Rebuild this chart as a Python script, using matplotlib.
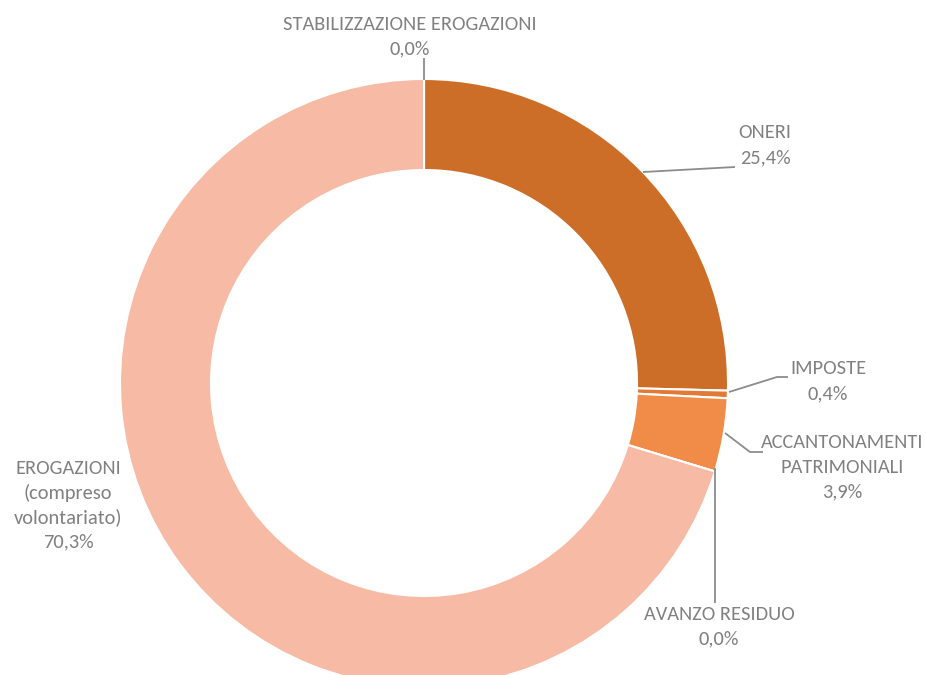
import matplotlib
matplotlib.use("Agg")
import matplotlib.pyplot as plt

plt.rcParams["font.family"] = ["Carlito", "DejaVu Sans"]

# slices clockwise from 12 o'clock
labels = ["ONERI", "IMPOSTE", "ACCANTONAMENTI\nPATRIMONIALI", "AVANZO RESIDUO",
          "EROGAZIONI\n(compreso\nvolontariato)", "STABILIZZAZIONE EROGAZIONI"]
shares = [25.4, 0.4, 3.9, 0.0, 70.3, 0.0]
colors = ["#CC6E28", "#E27A36", "#F08C48", "#F2A070", "#F7BAA4", "#F7BAA4"]

W, H = 926, 675
CX, CY = 424, H - 383
R_OUT, R_IN = 304, 213
TXT = "#808080"


def fmt(v):
    return f"{v:.1f}%".replace(".", ",")


fig = plt.figure(figsize=(W / 100, H / 100), dpi=100)
ax = fig.add_axes([0, 0, 1, 1])
ax.axis("off")

ax.pie(shares, colors=colors, startangle=90, counterclock=False,
       center=(CX, CY), radius=R_OUT, normalize=True,
       wedgeprops=dict(width=R_OUT - R_IN, edgecolor="white", linewidth=1.5))
ax.set_xlim(0, W)
ax.set_ylim(0, H)
ax.set_aspect("equal")


def y(top):
    return H - top


# leader lines (pixel coords measured from the top)
leaders = [
    [(643, 172), (735, 167)],
    [(729, 392), (777, 377), (788, 377)],
    [(725, 433), (750, 452), (763, 452)],
    [(715, 468), (715, 603)],
    [(424, 58), (424, 80)],
]
for pts in leaders:
    ax.plot([p[0] for p in pts], [y(p[1]) for p in pts], color="#8c8c8c",
            lw=1.3, solid_capstyle="butt")

# label anchors: centre x, centre y of first line (from top)
anchors = [(765, 133), (828, 369), (842, 443), (719, 614), (68, 468), (410, 24)]
LINE = 24.5
fs = 14.7
for (lx, ly), lab, v in zip(anchors, labels, shares):
    lines = lab.split("\n") + [fmt(v)]
    for k, ln in enumerate(lines):
        ax.text(lx, y(ly + k * LINE), ln, ha="center", va="center",
                fontsize=fs, color=TXT)

fig.savefig("out.png", dpi=100)
